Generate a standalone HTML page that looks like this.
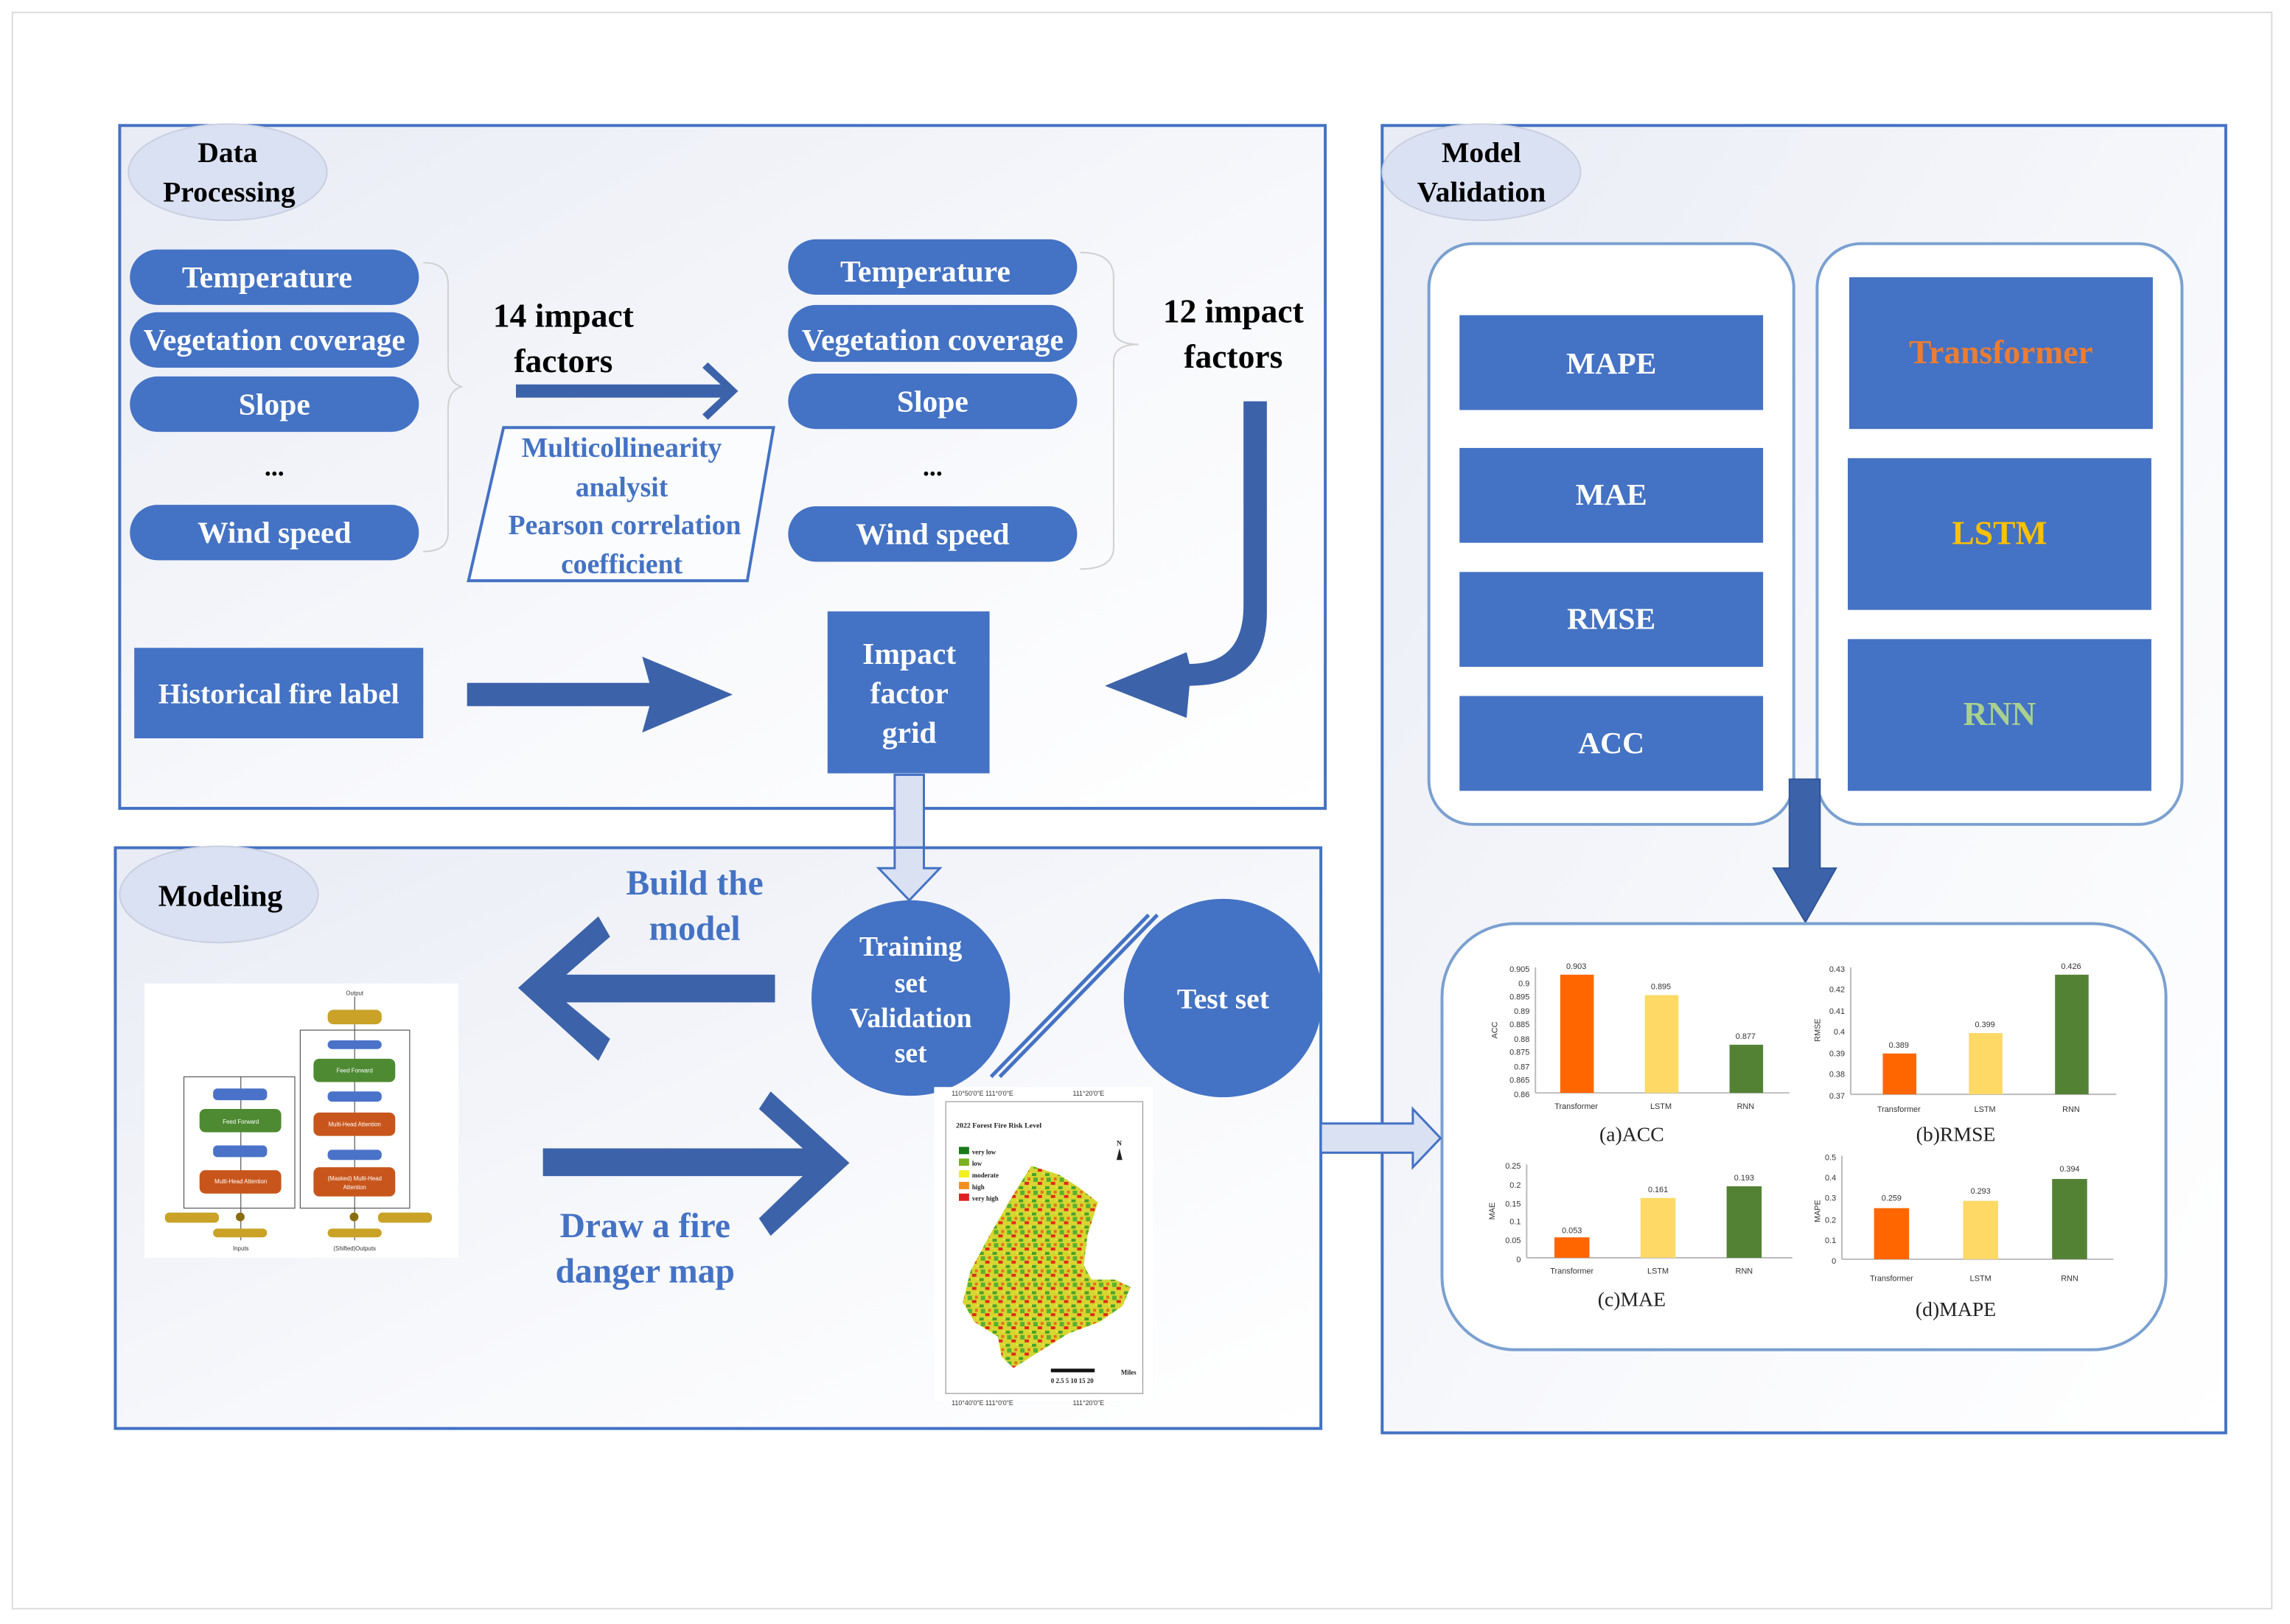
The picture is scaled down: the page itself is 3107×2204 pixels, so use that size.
<!DOCTYPE html>
<html><head><meta charset="utf-8"><style>
html,body{margin:0;padding:0;background:#fff;}
svg{display:block;}
text{font-family:"Liberation Serif",serif;font-weight:bold;}
.s text{font-family:"Liberation Sans",sans-serif;font-weight:normal;}
.n text{font-weight:normal;}
</style></head><body>
<svg width="3107" height="2204" viewBox="0 0 1569 1113" preserveAspectRatio="none" xmlns="http://www.w3.org/2000/svg">
<defs>
<linearGradient id="bg" x1="0" y1="0" x2="1" y2="1">
<stop offset="0" stop-color="#e9ecf5"/><stop offset="0.6" stop-color="#f8f9fc"/><stop offset="1" stop-color="#ffffff"/></linearGradient>
<pattern id="fire" width="9" height="9" patternUnits="userSpaceOnUse">
<rect width="9" height="9" fill="#d6d630"/>
<rect x="0" y="0" width="3" height="2" fill="#e02a1c"/>
<rect x="5" y="3" width="3" height="2" fill="#4aa02a"/>
<rect x="2" y="6" width="2" height="2" fill="#e8701c"/>
<rect x="6" y="6" width="3" height="3" fill="#58b030"/>
<rect x="3" y="3" width="2" height="1" fill="#f0e040"/>
</pattern>
</defs>
<rect x="8.5" y="8.5" width="1548" height="1094" fill="none" stroke="#dcdcdc" stroke-width="1"/>

<!-- Data Processing -->
<rect x="82" y="86" width="826" height="468" fill="url(#bg)" stroke="#4472c4" stroke-width="2"/>
<ellipse cx="156" cy="118" rx="68" ry="33" fill="#dae1f2" stroke="#c8cfe0"/>
<text x="156" y="111" text-anchor="middle" font-size="20">Data</text>
<text x="157" y="138" text-anchor="middle" font-size="20">Processing</text>
<g fill="#4472c4">
<rect x="89" y="171" width="198" height="38" rx="19"/>
<rect x="89" y="214" width="198" height="38" rx="19"/>
<rect x="89" y="258" width="198" height="38" rx="19"/>
<rect x="89" y="346" width="198" height="38" rx="19"/>
<rect x="540" y="164" width="198" height="38" rx="19"/>
<rect x="540" y="209" width="198" height="39" rx="19"/>
<rect x="540" y="256" width="198" height="38" rx="19"/>
<rect x="540" y="347" width="198" height="38" rx="19"/>
</g>
<g font-size="21" text-anchor="middle" fill="#fff">
<text x="183" y="197">Temperature</text>
<text x="188" y="240">Vegetation coverage</text>
<text x="188" y="284">Slope</text>
<text x="188" y="372">Wind speed</text>
<text x="634" y="193">Temperature</text>
<text x="639" y="240">Vegetation coverage</text>
<text x="639" y="282">Slope</text>
<text x="639" y="373">Wind speed</text>
</g>
<text x="188" y="326" text-anchor="middle" font-size="18">...</text>
<text x="639" y="326" text-anchor="middle" font-size="18">...</text>
<path d="M290 180 Q307 180 307 195 L307 250 Q307 262 316 265 Q307 268 307 280 L307 365 Q307 378 290 378" fill="none" stroke="#d0d0d0"/>
<path d="M740 173 Q763 173 763 190 L763 225 Q763 236 780 236 Q763 236 763 248 L763 375 Q763 390 740 390" fill="none" stroke="#d0d0d0"/>
<text x="386" y="224" text-anchor="middle" font-size="23">14 impact</text>
<text x="386" y="255" text-anchor="middle" font-size="23">factors</text>
<text x="845" y="221" text-anchor="middle" font-size="23">12 impact</text>
<text x="845" y="252" text-anchor="middle" font-size="23">factors</text>
<polygon points="354,264 495,264 482,252 485,249 505,268 485,287 482,284 495,272 354,272" fill="#3c62aa" stroke="#3c62aa"/>
<polygon points="345,293 530,293 512,398 321,398" fill="#fbfcfe" stroke="#4472c4" stroke-width="2"/>
<g fill="#4472c4" font-size="19" text-anchor="middle">
<text x="426" y="313">Multicollinearity</text>
<text x="426" y="340">analysit</text>
<text x="428" y="366">Pearson correlation</text>
<text x="426" y="393">coefficient</text>
</g>
<path d="M852 275 L868 275 L868 420 Q868 470 815 470 L813 492 L757 470 L813 447 L815 455 Q852 455 852 415 Z" fill="#3c62aa"/>
<rect x="92" y="444" width="198" height="62" fill="#4472c4"/>
<text x="191" y="482" text-anchor="middle" font-size="20" fill="#fff">Historical fire label</text>
<polygon points="320,468 445,468 440,450 502,476 440,502 445,484 320,484" fill="#3c62aa"/>
<rect x="567" y="419" width="111" height="111" fill="#4472c4"/>
<g fill="#fff" font-size="21" text-anchor="middle">
<text x="623" y="455">Impact</text>
<text x="623" y="482">factor</text>
<text x="623" y="509">grid</text>
</g>
<polygon points="613,531 633,531 633,595 644,595 623,617 602,595 613,595" fill="#dae1f2" stroke="#4472c4" stroke-width="1.5"/>

<!-- Modeling -->
<rect x="79" y="581" width="826" height="398" fill="url(#bg)" stroke="#4472c4" stroke-width="2"/>
<polygon points="613,581 633,581 633,595 644,595 623,617 602,595 613,595" fill="#dae1f2" stroke="#4472c4" stroke-width="1.5"/>
<ellipse cx="150" cy="613" rx="68" ry="33" fill="#dae1f2" stroke="#c8cfe0"/>
<text x="151" y="621" text-anchor="middle" font-size="21">Modeling</text>
<text x="476" y="613" text-anchor="middle" font-size="24" fill="#4472c4">Build the</text>
<text x="476" y="644" text-anchor="middle" font-size="24" fill="#4472c4">model</text>
<polygon points="355,677 410,628 418,642 388,668 531,668 531,687 388,687 418,712 410,727" fill="#3c62aa"/>
<polygon points="582,797 528,748 520,760 550,787 372,787 372,806 550,806 520,835 528,847" fill="#3c62aa"/>
<text x="442" y="848" text-anchor="middle" font-size="24" fill="#4472c4">Draw a fire</text>
<text x="442" y="879" text-anchor="middle" font-size="24" fill="#4472c4">danger map</text>
<ellipse cx="624" cy="684" rx="68" ry="67" fill="#4472c4"/>
<g fill="#fff" font-size="19" text-anchor="middle">
<text x="624" y="655">Training</text>
<text x="624" y="680">set</text>
<text x="624" y="704">Validation</text>
<text x="624" y="728">set</text>
</g>
<line x1="787" y1="627" x2="679" y2="738" stroke="#4472c4" stroke-width="2.5"/>
<line x1="793" y1="627" x2="685" y2="738" stroke="#4472c4" stroke-width="2.5"/>
<ellipse cx="838" cy="684" rx="68" ry="68" fill="#4472c4"/>
<text x="838" y="691" text-anchor="middle" font-size="20" fill="#fff">Test set</text>

<!-- transformer image -->
<rect x="99" y="674" width="215" height="188" fill="#fff"/>
<g fill="none" stroke="#555" stroke-width="0.6">
<rect x="205.7" y="706" width="75" height="122"/>
<rect x="126" y="738" width="76" height="90"/>
<line x1="243" y1="683" x2="243" y2="850"/><line x1="165" y1="738" x2="165" y2="850"/>
</g>
<g font-size="4" class="s" fill="#fff" text-anchor="middle">
<rect x="224.5" y="692" width="37" height="10" rx="4" fill="#c9a227"/>
<rect x="224.5" y="713" width="37" height="6" rx="3" fill="#4a72c8"/>
<rect x="214.8" y="725.6" width="56" height="16" rx="4" fill="#4e8a32"/><text x="243" y="735">Feed Forward</text>
<rect x="224.5" y="748" width="37" height="7" rx="3" fill="#4a72c8"/>
<rect x="214.8" y="762.5" width="56" height="16" rx="4" fill="#c8561c"/><text x="243" y="772">Multi-Head Attention</text>
<rect x="224.5" y="788" width="37" height="7" rx="3" fill="#4a72c8"/>
<rect x="214.8" y="800" width="56" height="20" rx="4" fill="#c8561c"/><text x="243" y="809">(Masked) Multi-Head</text><text x="243" y="815">Attention</text>
<rect x="146" y="746" width="37" height="8" rx="3" fill="#4a72c8"/>
<rect x="136.7" y="760" width="56" height="16" rx="4" fill="#4e8a32"/><text x="165" y="770">Feed Forward</text>
<rect x="146" y="785" width="37" height="8" rx="3" fill="#4a72c8"/>
<rect x="136.7" y="802" width="56" height="16" rx="4" fill="#c8561c"/><text x="165" y="811">Multi-Head Attention</text>
<rect x="113" y="831" width="37" height="7" rx="3" fill="#c9a227"/>
<rect x="259" y="831" width="37" height="7" rx="3" fill="#c9a227"/>
<rect x="146" y="842" width="37" height="6" rx="3" fill="#c9a227"/>
<rect x="224.5" y="842" width="37" height="6" rx="3" fill="#c9a227"/>
<circle cx="164.6" cy="834" r="3" fill="#8a6d10"/><circle cx="242.6" cy="834" r="3" fill="#8a6d10"/>
<text x="243" y="682" fill="#333">Output</text><text x="165" y="857" fill="#333">Inputs</text><text x="243" y="857" fill="#333">(Shifted)Outputs</text>
</g>

<!-- map -->
<rect x="640" y="745" width="150" height="215" fill="#fff"/>
<rect x="648" y="755" width="135" height="200" fill="#fff" stroke="#999" stroke-width="0.6"/>
<g font-size="4.5" fill="#333" class="s">
<text x="652" y="751">110°50'0"E 111°0'0"E</text><text x="735" y="751">111°20'0"E</text>
<text x="652" y="963">110°40'0"E 111°0'0"E</text><text x="735" y="963">111°20'0"E</text>
</g>
<text x="655" y="773" font-size="5" fill="#222">2022 Forest Fire Risk Level</text>
<g font-size="4.5" fill="#222">
<rect x="657" y="786" width="7" height="5" fill="#1a7a1a"/><text x="666" y="791">very low</text>
<rect x="657" y="794" width="7" height="5" fill="#7ab020"/><text x="666" y="799">low</text>
<rect x="657" y="802" width="7" height="5" fill="#f0f020"/><text x="666" y="807">moderate</text>
<rect x="657" y="810" width="7" height="5" fill="#f09020"/><text x="666" y="815">high</text>
<rect x="657" y="818" width="7" height="5" fill="#e02020"/><text x="666" y="823">very high</text>
</g>
<text x="765" y="785" font-size="5" fill="#222">N</text><polygon points="765,795 767,787 769,795" fill="#222"/>
<polygon points="706.7,799 725.4,805 738.7,813.5 752.2,824 745.2,846 742.5,867 747.8,877 763.8,877 774.5,882 769.2,895 753.2,906 731.8,914 715.8,924 694.4,937.5 686.4,930 683.7,916 667.7,906 659.7,892.5 665,871 678.4,846 694.4,818.5" fill="#c9cf2c"/>
<polygon points="706.7,799 725.4,805 738.7,813.5 752.2,824 745.2,846 742.5,867 747.8,877 763.8,877 774.5,882 769.2,895 753.2,906 731.8,914 715.8,924 694.4,937.5 686.4,930 683.7,916 667.7,906 659.7,892.5 665,871 678.4,846 694.4,818.5" fill="url(#fire)"/>
<rect x="720" y="938" width="30" height="2.5" fill="#111"/><text x="768" y="942" font-size="4.5" fill="#222">Miles</text>
<text x="720" y="948" font-size="4.5" fill="#222">0 2.5 5   10   15   20</text>

<!-- Model validation -->
<rect x="947" y="86" width="578" height="896" fill="url(#bg)" stroke="#4472c4" stroke-width="2"/>
<ellipse cx="1015" cy="118" rx="68" ry="33" fill="#dae1f2" stroke="#c8cfe0"/>
<text x="1015" y="111" text-anchor="middle" font-size="20">Model</text>
<text x="1015" y="138" text-anchor="middle" font-size="20">Validation</text>
<rect x="979" y="167" width="250" height="398" rx="30" fill="#fff" stroke="#7ba0d0" stroke-width="2"/>
<rect x="1245" y="167" width="250" height="398" rx="30" fill="#fff" stroke="#7ba0d0" stroke-width="2"/>
<g fill="#4472c4">
<rect x="1000" y="216" width="208" height="65"/>
<rect x="1000" y="307" width="208" height="65"/>
<rect x="1000" y="392" width="208" height="65"/>
<rect x="1000" y="477" width="208" height="65"/>
<rect x="1267" y="190" width="208" height="104"/>
<rect x="1266" y="314" width="208" height="104"/>
<rect x="1266" y="438" width="208" height="104"/>
</g>
<g font-size="21" text-anchor="middle" fill="#fff">
<text x="1104" y="256">MAPE</text>
<text x="1104" y="346">MAE</text>
<text x="1104" y="431">RMSE</text>
<text x="1104" y="516">ACC</text>
<text x="1371" y="249" fill="#ed7d31" font-size="23">Transformer</text>
<text x="1370" y="373" fill="#ffc000" font-size="23">LSTM</text>
<text x="1370" y="497" fill="#a9d18e" font-size="23">RNN</text>
</g>
<polygon points="1226,534 1247,534 1247,595 1258,595 1237,632 1215,595 1226,595" fill="#3c62aa" stroke="#2f5597" stroke-width="1"/>
<rect x="988" y="633" width="496" height="292" rx="50" fill="#fff" stroke="#7ba0d0" stroke-width="2"/>

<!-- hollow arrow to results -->
<polygon points="905,770 968,770 968,760 987,780 968,800 968,790 905,790" fill="#dae1f2" stroke="#4472c4" stroke-width="1.5"/>

<!-- charts -->
<g class="s" font-size="5.5" fill="#333">
<line x1="1052" y1="663" x2="1052" y2="749" stroke="#bbb"/><line x1="1052" y1="749" x2="1226" y2="749" stroke="#bbb"/>
<text x="1048" y="666" text-anchor="end">0.905</text><text x="1048" y="676" text-anchor="end">0.9</text><text x="1048" y="685" text-anchor="end">0.895</text><text x="1048" y="695" text-anchor="end">0.89</text><text x="1048" y="704" text-anchor="end">0.885</text><text x="1048" y="714" text-anchor="end">0.88</text><text x="1048" y="723" text-anchor="end">0.875</text><text x="1048" y="733" text-anchor="end">0.87</text><text x="1048" y="742" text-anchor="end">0.865</text><text x="1048" y="752" text-anchor="end">0.86</text>
<text x="1026" y="706" transform="rotate(-90 1026 706)" text-anchor="middle">ACC</text>
<rect x="1069" y="668" width="23" height="81" fill="#ff6600"/><rect x="1127" y="682" width="23" height="67" fill="#ffd966"/><rect x="1185" y="716" width="23" height="33" fill="#548235"/>
<text x="1080" y="664" text-anchor="middle">0.903</text><text x="1138" y="678" text-anchor="middle">0.895</text><text x="1196" y="712" text-anchor="middle">0.877</text>
<text x="1080" y="760" text-anchor="middle">Transformer</text><text x="1138" y="760" text-anchor="middle">LSTM</text><text x="1196" y="760" text-anchor="middle">RNN</text>
<line x1="1268" y1="663" x2="1268" y2="750" stroke="#bbb"/><line x1="1268" y1="750" x2="1450" y2="750" stroke="#bbb"/>
<text x="1264" y="666" text-anchor="end">0.43</text><text x="1264" y="680" text-anchor="end">0.42</text><text x="1264" y="695" text-anchor="end">0.41</text><text x="1264" y="709" text-anchor="end">0.4</text><text x="1264" y="724" text-anchor="end">0.39</text><text x="1264" y="738" text-anchor="end">0.38</text><text x="1264" y="753" text-anchor="end">0.37</text>
<text x="1247" y="706" transform="rotate(-90 1247 706)" text-anchor="middle">RMSE</text>
<rect x="1290" y="722" width="23" height="28" fill="#ff6600"/><rect x="1349" y="708" width="23" height="42" fill="#ffd966"/><rect x="1408" y="668" width="23" height="82" fill="#548235"/>
<text x="1301" y="718" text-anchor="middle">0.389</text><text x="1360" y="704" text-anchor="middle">0.399</text><text x="1419" y="664" text-anchor="middle">0.426</text>
<text x="1301" y="762" text-anchor="middle">Transformer</text><text x="1360" y="762" text-anchor="middle">LSTM</text><text x="1419" y="762" text-anchor="middle">RNN</text>
<line x1="1046" y1="798" x2="1046" y2="862" stroke="#bbb"/><line x1="1046" y1="862" x2="1228" y2="862" stroke="#bbb"/>
<text x="1042" y="801" text-anchor="end">0.25</text><text x="1042" y="814" text-anchor="end">0.2</text><text x="1042" y="827" text-anchor="end">0.15</text><text x="1042" y="839" text-anchor="end">0.1</text><text x="1042" y="852" text-anchor="end">0.05</text><text x="1042" y="865" text-anchor="end">0</text>
<text x="1024" y="830" transform="rotate(-90 1024 830)" text-anchor="middle">MAE</text>
<rect x="1065" y="848" width="24" height="14" fill="#ff6600"/><rect x="1124" y="821" width="24" height="41" fill="#ffd966"/><rect x="1183" y="813" width="24" height="49" fill="#548235"/>
<text x="1077" y="845" text-anchor="middle">0.053</text><text x="1136" y="817" text-anchor="middle">0.161</text><text x="1195" y="809" text-anchor="middle">0.193</text>
<text x="1077" y="873" text-anchor="middle">Transformer</text><text x="1136" y="873" text-anchor="middle">LSTM</text><text x="1195" y="873" text-anchor="middle">RNN</text>
<line x1="1262" y1="792" x2="1262" y2="863" stroke="#bbb"/><line x1="1262" y1="863" x2="1448" y2="863" stroke="#bbb"/>
<text x="1258" y="795" text-anchor="end">0.5</text><text x="1258" y="809" text-anchor="end">0.4</text><text x="1258" y="823" text-anchor="end">0.3</text><text x="1258" y="838" text-anchor="end">0.2</text><text x="1258" y="852" text-anchor="end">0.1</text><text x="1258" y="866" text-anchor="end">0</text>
<text x="1247" y="830" transform="rotate(-90 1247 830)" text-anchor="middle">MAPE</text>
<rect x="1284" y="828" width="24" height="35" fill="#ff6600"/><rect x="1345" y="823" width="24" height="40" fill="#ffd966"/><rect x="1406" y="808" width="24" height="55" fill="#548235"/>
<text x="1296" y="823" text-anchor="middle">0.259</text><text x="1357" y="818" text-anchor="middle">0.293</text><text x="1418" y="803" text-anchor="middle">0.394</text>
<text x="1296" y="878" text-anchor="middle">Transformer</text><text x="1357" y="878" text-anchor="middle">LSTM</text><text x="1418" y="878" text-anchor="middle">RNN</text>
</g>
<g class="n" font-size="14" fill="#222" text-anchor="middle">
<text x="1118" y="782">(a)ACC</text>
<text x="1340" y="782">(b)RMSE</text>
<text x="1118" y="895">(c)MAE</text>
<text x="1340" y="902">(d)MAPE</text>
</g>
</svg>
</body></html>
